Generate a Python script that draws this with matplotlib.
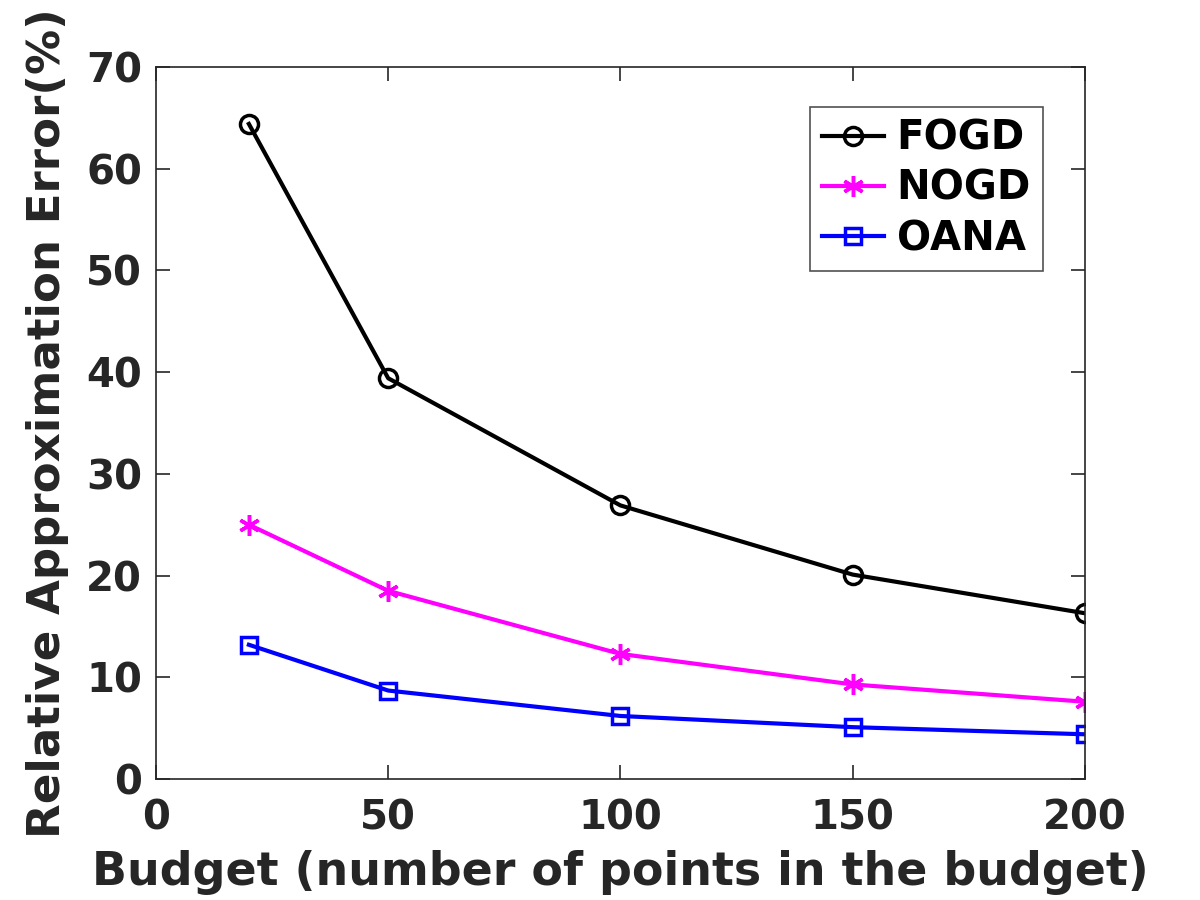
import numpy as np
import matplotlib.pyplot as plt

budget = [20, 50, 100, 150, 200]
fogd = [64.4, 39.4, 26.9, 20.1, 16.3]
nogd = [25.0, 18.5, 12.3, 9.3, 7.6]
oana = [13.2, 8.7, 6.2, 5.1, 4.4]

plt.rcParams['font.family'] = ['DejaVu Sans']
plt.rcParams['font.weight'] = 'bold'

fig = plt.figure(figsize=(12, 9), dpi=100)
ax = fig.add_axes([0.13, 0.1344, 0.774, 0.7912])

ax.plot(budget, fogd, color='black', lw=3, marker='o', ms=13, mfc='none', mew=2.5, label='FOGD')
ax.plot(budget, nogd, color='#ff00ff', lw=3, marker=(6, 2, 0), ms=15, mew=2.5, label='NOGD')
ax.plot(budget, oana, color='blue', lw=3, marker='s', ms=11, mfc='none', mew=2.5, label='OANA')

ax.set_xlim(0, 200)
ax.set_ylim(0, 70)
ax.set_xticks([0, 50, 100, 150, 200])
ax.set_yticks(range(0, 71, 10))

dark = '#262626'
for s in ax.spines.values():
    s.set_color(dark)
    s.set_linewidth(1.2)
ax.tick_params(direction='in', length=10, width=1.2, colors=dark, labelsize=29,
               top=True, right=True)
ax.tick_params(axis='x', pad=14)
ax.tick_params(axis='y', pad=10)
for lab in ax.get_xticklabels() + ax.get_yticklabels():
    lab.set_fontweight('bold')

ax.set_xlabel('Budget (number of points in the budget)', fontsize=33, fontweight='bold', color=dark, labelpad=8)
ax.set_ylabel('Relative Approximation Error(%)', fontsize=32.5, fontweight='bold', color=dark, labelpad=12)

leg = ax.legend(loc='upper right', bbox_to_anchor=(0.955, 0.944), fontsize=29, frameon=True,
                fancybox=False, edgecolor=dark, handlelength=1.55, borderpad=0.3,
                labelspacing=0.25, handletextpad=0.3, borderaxespad=0)
leg.get_frame().set_linewidth(1.2)
for t in leg.get_texts():
    t.set_fontweight('bold')
    t.set_color('black')

fig.savefig('out.png', dpi=100)
